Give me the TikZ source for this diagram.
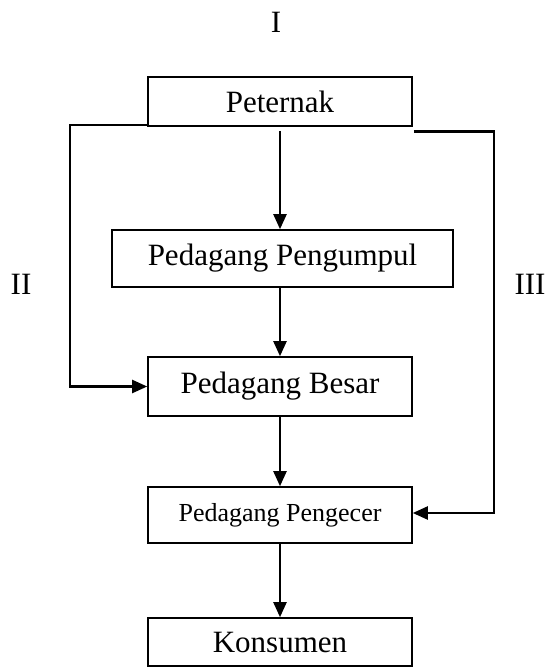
\documentclass[tikz,border=0pt]{standalone}
\usepackage{fontspec}
\setmainfont{Liberation Serif}
\usetikzlibrary{arrows.meta}
\tikzset{
  box/.style={draw, line width=1.6pt, minimum width=264pt, inner sep=0pt, font=\fontsize{31}{36}\selectfont},
  tag/.style={font=\fontsize{31}{36}\selectfont},
  flow/.style={line width=2.2pt, -{Triangle[length=15pt,width=13pt]}},
}
\begin{document}
\begin{tikzpicture}[x=1pt,y=-1pt]
    \useasboundingbox (0,0) rectangle (548,668);
    %% Boxes
    \node[box, minimum height=49pt] (peternak) at (280,101.5) {Peternak};
    \node[box, minimum width=341pt, minimum height=57pt] (pengumpul) at (282.5,258.5) {Pedagang Pengumpul};
    \node[box, minimum height=59pt] (besar) at (280,386.5) {Pedagang Besar};
    \node[box, minimum height=56pt, font=\fontsize{26}{30}\selectfont] (pengecer) at (280,515) {Pedagang Pengecer};
    \node[box, minimum height=48pt] (konsumen) at (280,642) {Konsumen};
    %% Labels
    \node[tag] (one) at (276,22) {I};
    \node[tag] (two) at (21,284) {II};
    \node[tag] (three) at (530,284) {III};
    %% Channels
    \draw[flow, shorten <=4pt] (peternak.south) -- (peternak.south |- pengumpul.north);
    \draw[flow] (pengumpul.south -| besar.north) -- (besar.north);
    \draw[flow] (besar) -- (pengecer);
    \draw[flow] (pengecer) -- (konsumen);
    \draw[flow] ([yshift=2pt]peternak.south west) -- ++(-77.3,0) |- (besar.west);
    \draw[flow] ([shift={(1pt,-4.7pt)}]peternak.south east) -- ++(80,0) |- ([yshift=2pt]pengecer.east);
\end{tikzpicture}
\end{document}
